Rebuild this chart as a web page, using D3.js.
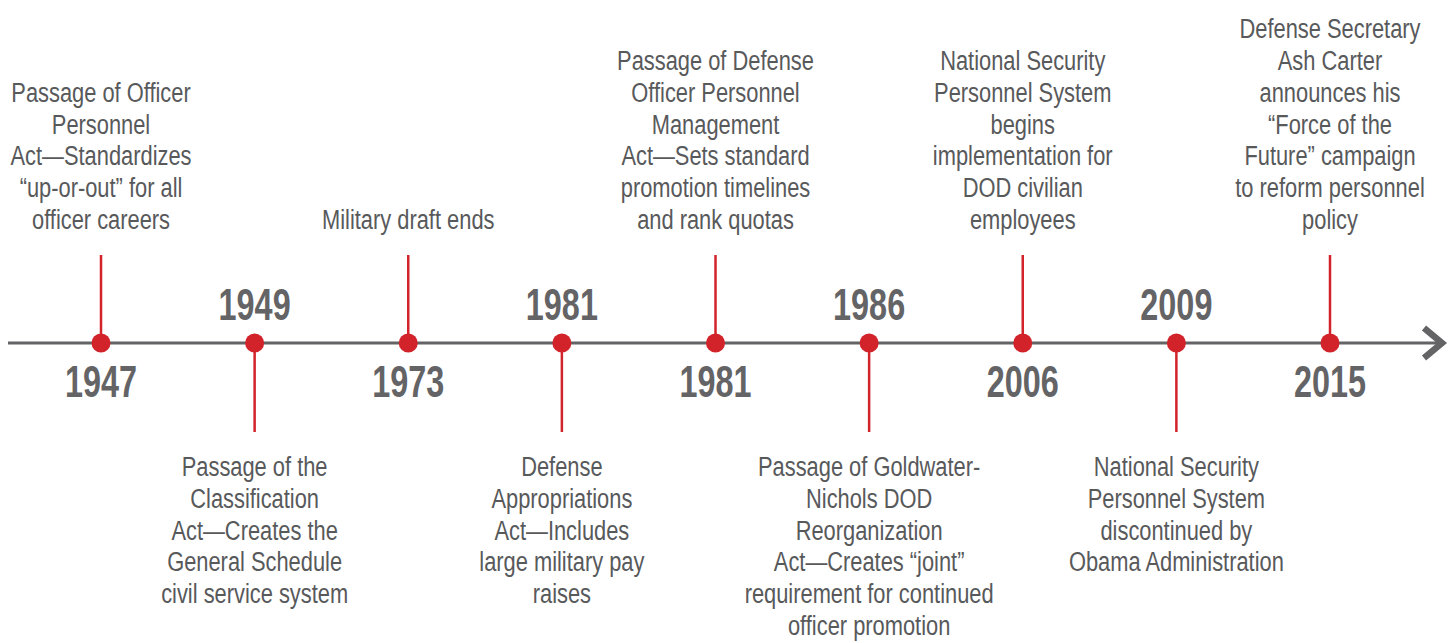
<!DOCTYPE html>
<html>
<head>
<meta charset="utf-8">
<script src="https://cdn.jsdelivr.net/npm/d3@7"></script>
<style>
	body { margin: 0; background: #fff; }
	svg { display: block; }
</style>
</head>
<body>
<svg id="timeline" width="1455" height="643"></svg>
<script>
// event data, in order along the line
const years = ["1947", "1949", "1973", "1981", "1981", "1986", "2006", "2009", "2015"]
const sides = ["up", "down", "up", "down", "up", "down", "up", "down", "up"]
const labels = [
	["Passage of Officer", "Personnel", "Act—Standardizes", "“up-or-out” for all", "officer careers"],
	["Passage of the", "Classification", "Act—Creates the", "General Schedule", "civil service system"],
	["Military draft ends"],
	["Defense", "Appropriations", "Act—Includes", "large military pay", "raises"],
	["Passage of Defense", "Officer Personnel", "Management", "Act—Sets standard", "promotion timelines", "and rank quotas"],
	["Passage of Goldwater-", "Nichols DOD", "Reorganization", "Act—Creates “joint”", "requirement for continued", "officer promotion"],
	["National Security", "Personnel System", "begins", "implementation for", "DOD civilian", "employees"],
	["National Security", "Personnel System", "discontinued by", "Obama Administration"],
	["Defense Secretary", "Ash Carter", "announces his", "“Force of the", "Future” campaign", "to reform personnel", "policy"]
]

const events = years.map((year, i) => ({ i, year, side: sides[i], lines: labels[i] }))

const colours = {
	red: "#d2232a",
	grey: "#646466",
	text: "#58595b"
}

const font = "'Liberation Sans', Arial, sans-serif"
const axisY = 343
const lineHeight = 31.8

const x = d3.scalePoint()
	.domain(events.map(d => d.i))
	.range([101, 1330])

const svg = d3.select("#timeline")

/**
 * Main horizontal line with the chevron at the end
 */
svg.append("line")
	.attr("x1", 8)
	.attr("x2", 1440)
	.attr("y1", axisY)
	.attr("y2", axisY)
	.attr("stroke", colours.grey)
	.attr("stroke-width", 3)

svg.append("path")
	.attr("d", `M1424,328 L1442,${axisY} L1424,358`)
	.attr("fill", "none")
	.attr("stroke", colours.grey)
	.attr("stroke-width", 6.5)
	.attr("stroke-linejoin", "miter")

const event = svg.selectAll(".event")
	.data(events)
	.enter()
	.append("g")
	.attr("class", "event")
	.attr("transform", d => `translate(${x(d.i)},0)`)

// stems
event.append("line")
	.attr("x1", 0)
	.attr("x2", 0)
	.attr("y1", axisY)
	.attr("y2", d => d.side === "up" ? 255 : 432)
	.attr("stroke", colours.red)
	.attr("stroke-width", 2.5)

// dots
event.append("circle")
	.attr("r", 9.5)
	.attr("cy", axisY)
	.attr("fill", colours.red)

// years, on the opposite side to the stem (font squeezed to look condensed)
event.append("text")
	.attr("transform", d => `translate(0,${d.side === "up" ? 397 : 320}) scale(0.72,1)`)
	.attr("text-anchor", "middle")
	.attr("font-family", font)
	.attr("font-weight", "bold")
	.attr("font-size", 45)
	.attr("fill", colours.grey)
	.text(d => d.year)

// description labels
const label = event.append("text")
	.attr("transform", "scale(0.81,1)")
	.attr("text-anchor", "middle")
	.attr("font-family", font)
	.attr("font-size", 27)
	.attr("fill", colours.text)

label.selectAll("tspan")
	.data(d => d.lines.map((t, k) => ({ t, k, d })))
	.enter()
	.append("tspan")
	.attr("x", 0)
	.attr("y", l => {
		if (l.d.side === "down") return 476 + l.k * lineHeight
		const n = l.d.lines.length
		return 229 - (n - 1 - l.k) * lineHeight
	})
	.text(l => l.t)
</script>
</body>
</html>
